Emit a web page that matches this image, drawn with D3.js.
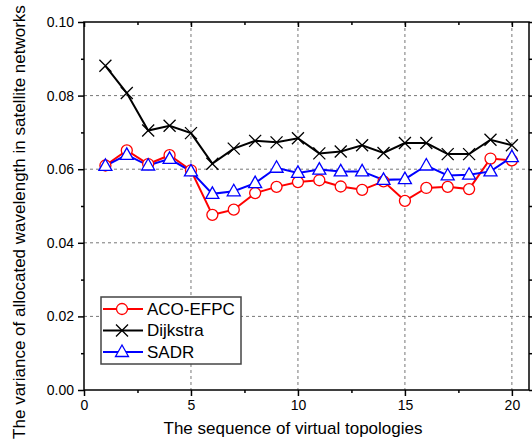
<!DOCTYPE html>
<meta charset="utf-8">
<script src="https://d3js.org/d3.v7.min.js"></script>
<style>
  body { margin: 0; background: #fff; }
  text { font-family: "Liberation Sans", Arial, sans-serif; }
</style>
<div id="chart"></div>
<script>

// data
const topology = d3.range(1, 21);
const acoEfpc = [0.0610, 0.0651, 0.0614, 0.0638, 0.0597, 0.0476, 0.0490, 0.0535, 0.0552, 0.0565,
                 0.0570, 0.0553, 0.0544, 0.0567, 0.0514, 0.0549, 0.0552, 0.0546, 0.0629, 0.0624];
const dijkstra = [0.0881, 0.0807, 0.0705, 0.0718, 0.0698, 0.0615, 0.0656, 0.0677, 0.0673, 0.0684,
                  0.0643, 0.0648, 0.0665, 0.0644, 0.0671, 0.0671, 0.0641, 0.0641, 0.0680, 0.0665];
const sadr = [0.0609, 0.0639, 0.0610, 0.0628, 0.0594, 0.0533, 0.0540, 0.0562, 0.0604, 0.0590,
              0.0599, 0.0594, 0.0594, 0.0571, 0.0573, 0.0610, 0.0583, 0.0585, 0.0594, 0.0633];
const xTicks = [0, 5, 10, 15, 20];
const yTicks = [0.00, 0.02, 0.04, 0.06, 0.08, 0.10];
const seriesNames = ["ACO-EFPC", "Dijkstra", "SADR"];

const W = 532, H = 444;
const margin = {top: 22, right: 3, bottom: 54, left: 84};
const width = W - margin.left - margin.right,
      height = H - margin.top - margin.bottom;

const svg = d3.select("#chart").append("svg")
    .attr("width", W).attr("height", H);
const g = svg.append("g").attr("transform", `translate(${margin.left},${margin.top})`);

const x = d3.scaleLinear().domain([0, 20.8]).range([0, width]);
const y = d3.scaleLinear().domain([0, 0.10]).range([height, 0]);

// dashed grid
g.append("g").selectAll("line").data(xTicks.slice(1)).join("line")
    .attr("x1", d => x(d)).attr("x2", d => x(d))
    .attr("y1", 0).attr("y2", height)
    .attr("stroke", "#777").attr("stroke-dasharray", "3,3").attr("stroke-width", 1);
g.append("g").selectAll("line").data(yTicks.slice(1, -1)).join("line")
    .attr("x1", 0).attr("x2", width)
    .attr("y1", d => y(d)).attr("y2", d => y(d))
    .attr("stroke", "#777").attr("stroke-dasharray", "3,3").attr("stroke-width", 1);

// axes
const xMinor = [2.5, 7.5, 12.5, 17.5];
const yMinor = [0.01, 0.03, 0.05, 0.07, 0.09];

function styleAxis(sel) {
  sel.select(".domain").remove();
  sel.selectAll("line").attr("stroke", "#000").attr("stroke-width", 1.5);
  sel.selectAll("text").attr("font-size", 14).attr("fill", "#000");
}

g.append("g").attr("transform", `translate(0,${height})`)
  .call(d3.axisBottom(x).tickValues(xTicks).tickSize(6).tickPadding(4).tickFormat(d3.format("d")))
  .call(styleAxis);
g.append("g").attr("transform", `translate(0,${height})`)
  .call(d3.axisBottom(x).tickValues(xMinor).tickSize(3).tickFormat(""))
  .call(styleAxis);
g.append("g")
  .call(d3.axisLeft(y).tickValues(yTicks).tickSize(6).tickPadding(4).tickFormat(d3.format(".2f")))
  .call(styleAxis);
g.append("g")
  .call(d3.axisLeft(y).tickValues(yMinor).tickSize(3).tickFormat(""))
  .call(styleAxis);
g.append("g")
  .call(d3.axisTop(x).tickValues(xTicks).tickSize(-5).tickFormat(""))
  .call(styleAxis);
g.append("g")
  .call(d3.axisTop(x).tickValues(xMinor).tickSize(-3).tickFormat(""))
  .call(styleAxis);
g.append("g").attr("transform", `translate(${width},0)`)
  .call(d3.axisRight(y).tickValues(yTicks).tickSize(6).tickFormat(""))
  .call(styleAxis);
g.append("g").attr("transform", `translate(${width},0)`)
  .call(d3.axisRight(y).tickValues(yMinor).tickSize(3).tickFormat(""))
  .call(styleAxis);

// frame
g.append("rect").attr("width", width).attr("height", height)
    .attr("fill", "none").attr("stroke", "#000").attr("stroke-width", 1.5);

// series
const series = [
  {name: seriesNames[0], values: acoEfpc, color: "#ff0000", marker: "circle"},
  {name: seriesNames[1], values: dijkstra, color: "#000000", marker: "cross"},
  {name: seriesNames[2], values: sadr, color: "#0000ff", marker: "triangle"}
];

function drawMarker(sel, type, color) {
  if (type === "circle") {
    sel.append("circle").attr("r", 5.5)
      .attr("fill", "#fff").attr("stroke", color).attr("stroke-width", 1.3);
  } else if (type === "cross") {
    sel.append("path").attr("d", "M-6,-6L6,6M-6,6L6,-6")
      .attr("fill", "none").attr("stroke", color).attr("stroke-width", 1.3);
  } else {
    sel.append("path").attr("d", "M0,-7L6.5,4.5L-6.5,4.5Z")
      .attr("fill", "#fff").attr("stroke", color).attr("stroke-width", 1.3);
  }
}

const line = d3.line().x((d, i) => x(topology[i])).y(d => y(d));

series.forEach(s => {
  g.append("path").datum(s.values)
    .attr("d", line)
    .attr("fill", "none").attr("stroke", s.color).attr("stroke-width", 2);
});
series.forEach(s => {
  g.append("g").selectAll("g").data(s.values).join("g")
    .attr("transform", (d, i) => `translate(${x(topology[i])},${y(d)})`)
    .each(function() { drawMarker(d3.select(this), s.marker, s.color); });
});

// legend
const legend = g.append("g").attr("transform", `translate(${101 - margin.left},${297 - margin.top})`);
legend.append("rect").attr("width", 140).attr("height", 67)
    .attr("fill", "#fff").attr("stroke", "#444").attr("stroke-width", 1.5);
series.forEach((s, i) => {
  const row = legend.append("g").attr("transform", `translate(0,${12 + i * 21.5})`);
  row.append("line").attr("x1", 2).attr("x2", 42)
    .attr("stroke", s.color).attr("stroke-width", 2);
  drawMarker(row.append("g").attr("transform", "translate(21,0)"), s.marker, s.color);
  row.append("text").attr("x", 46).attr("y", 0).attr("dy", "0.35em")
    .attr("font-size", 17).text(s.name);
});

// axis titles
svg.append("text")
    .attr("x", 293).attr("y", 434)
    .attr("text-anchor", "middle").attr("font-size", 17)
    .text("The sequence of virtual topologies");
svg.append("text")
    .attr("transform", "translate(25,222) rotate(-90)")
    .attr("text-anchor", "middle").attr("font-size", 17)
    .text("The variance of allocated wavelength in satellite networks");

</script>
